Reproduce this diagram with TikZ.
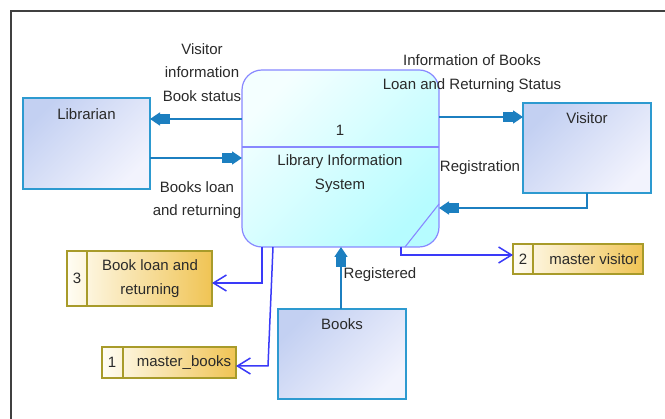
\documentclass[tikz,border=0pt]{standalone}
\usepackage{fontspec}
\setmainfont{Liberation Sans}
\usetikzlibrary{arrows.meta}
\definecolor{flowc}{HTML}{1C7FC0}
\definecolor{entb}{HTML}{2D9AD0}
\definecolor{entA}{HTML}{C3D0F2}
\definecolor{entB}{HTML}{F2F3FD}
\definecolor{procb}{HTML}{8888FF}
\definecolor{procA}{HTML}{F4FFFF}
\definecolor{procB}{HTML}{B6FCFF}
\definecolor{stob}{HTML}{A89B2A}
\definecolor{stoA}{HTML}{FFFDF4}
\definecolor{stoB}{HTML}{F0C454}
\definecolor{sflowc}{HTML}{3A3AF8}
\definecolor{txt}{HTML}{2A2A2A}
\begin{document}
\begin{tikzpicture}[x=1pt,y=-1pt,
  every node/.style={font=\fontsize{15}{23.5}\selectfont, text=txt, inner sep=0pt, outer sep=0pt},
  entity/.style={draw=entb, line width=1.4pt, shading=axis, top color=entA, bottom color=entB, shading angle=45, anchor=north west},
  proc/.style={draw=procb, line width=1.2pt, shading=axis, top color=procA, bottom color=procB, shading angle=45, rounded corners=20pt, anchor=north west},
  store/.style={draw=stob, line width=1.3pt, shading=axis, left color=stoA, right color=stoB, anchor=north west},
  sdiv/.style={draw=stob, line width=1.3pt},
  flow/.style={draw=flowc, line width=1.6pt, -{Rectangle[length=10pt,width=10pt]Triangle[length=10pt,width=13pt]}},
  sflow/.style={draw=sflowc, line width=1.5pt, -{Straight Barb[length=13pt,width=16pt,line width=1.5pt]}},
  lbl/.style={align=center}
]
\useasboundingbox (0,0) rectangle (665,419);
\fill[white] (0,0) rectangle (665,419);
% frame
\coordinate (f1) at (11,419);
\coordinate (f2) at (11,11);
\coordinate (f3) at (665,11);
\draw[line width=1.3pt, black!75] (f1) -- (f2) -- (f3);

% external entities
\node[entity, minimum width=127pt, minimum height=91pt] (lib) at (23,98) {};
\node (libt) at (86.5,114) {Librarian};
\node[entity, minimum width=128pt, minimum height=90pt] (vis) at (523,103) {};
\node (vist) at (587,118) {Visitor};
\node[entity, minimum width=128pt, minimum height=90pt] (books) at (278,309) {};
\node (bookst) at (342,324) {Books};

% process
\node[proc, minimum width=197pt, minimum height=177pt] (proc) at (242,70) {};
\coordinate (y147) at (0,147);
\draw[procb, line width=1.2pt] (proc.west |- y147) -- (proc.east |- y147);
\coordinate (y204) at (0,204);
\coordinate (x405) at (405,0);
\draw[procb, line width=1.1pt] (proc.east |- y204) -- (x405 |- proc.south);
\node (pnum) at (340,130) {1};
\node[lbl] (pname) at (340,173.5) {Library Information\\System};

% data stores
\node[store, minimum width=145pt, minimum height=55pt] (s3) at (67,251) {};
\draw[sdiv] ([xshift=20pt]s3.north west) -- ([xshift=20pt]s3.south west);
\node (s3n) at (77,278) {3};
\node[lbl] (s3t) at (150,278.5) {Book loan and\\returning};

\node[store, minimum width=134pt, minimum height=31pt] (s1) at (102,347) {};
\draw[sdiv] ([xshift=21pt]s1.north west) -- ([xshift=21pt]s1.south west);
\node (s1n) at (112,362.5) {1};
\node (s1t) at (184,362.5) {master\_books};

\node[store, minimum width=130pt, minimum height=30pt] (s2) at (513,244) {};
\draw[sdiv] ([xshift=20pt]s2.north west) -- ([xshift=20pt]s2.south west);
\node (s2n) at (523,259) {2};
\node (s2t) at (594,259) {master visitor};

% external flows
\coordinate (y119) at (0,119);
\coordinate (y158) at (0,158);
\coordinate (y117) at (0,117);
\coordinate (y208) at (0,208);
\coordinate (x587) at (587,0);
\coordinate (x341) at (341,0);
\draw[flow] (proc.west |- y119) -- (lib.east |- y119);
\draw[flow] (lib.east |- y158) -- (proc.west |- y158);
\draw[flow] (proc.east |- y117) -- (vis.west |- y117);
\draw[flow] (x587 |- vis.south) -- (x587 |- y208) -- (proc.east |- y208);
\draw[flow] (x341 |- books.north) -- (x341 |- proc.south);

% store flows
\coordinate (x262) at (262,0);
\coordinate (y283) at (0,283);
\coordinate (x273) at (273,0);
\coordinate (c1b) at (268,366);
\coordinate (x401) at (401,0);
\coordinate (y255) at (0,255);
\draw[sflow] (x262 |- proc.south) -- (x262 |- y283) -- (s3.east |- y283);
\draw[sflow] (x273 |- proc.south) -- (c1b) -- (s1.east |- c1b);
\draw[sflow] (x401 |- proc.south) -- (x401 |- y255) -- (s2.west |- y255);

% flow labels
\node[lbl] (l1) at (202,72.5) {Visitor\\information\\Book status};
\node[lbl] (l2) at (197,200) {Books loan\\and returning};
\node[lbl] (l3) at (472,73.5) {Information of Books\\Loan and Returning Status};
\node (l4) at (480,168) {Registration};
\node (l5) at (380,275) {Registered};
\end{tikzpicture}
\end{document}
